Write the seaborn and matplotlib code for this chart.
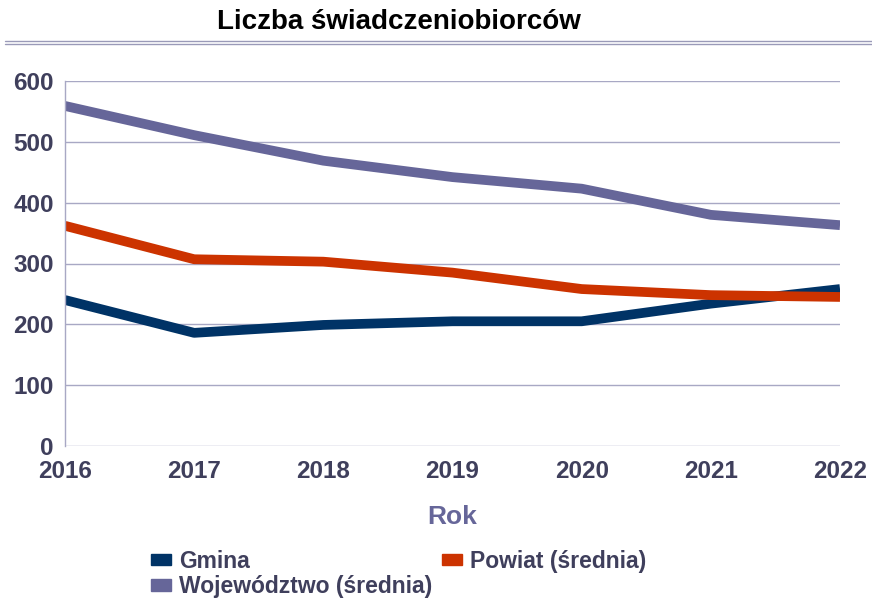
import pandas as pd
import matplotlib.pyplot as plt
import seaborn as sns
from matplotlib.patches import Patch
from matplotlib.lines import Line2D

# ---- data ----
years = [2016, 2017, 2018, 2019, 2020, 2021, 2022]
gmina = [240, 186, 199, 205, 205, 234, 258]
powiat = [362, 307, 303, 285, 258, 248, 245]
wojewodztwo = [559, 511, 469, 442, 423, 380, 363]
series_names = ["Gmina", "Powiat (średnia)", "Województwo (średnia)"]
colors = ["#003366", "#CC3300", "#666699"]

df = pd.DataFrame({
    "Rok": years * 3,
    "Wartość": gmina + powiat + wojewodztwo,
    "Seria": [series_names[0]] * 7 + [series_names[1]] * 7 + [series_names[2]] * 7,
})

sns.set_style("white")
plt.rcParams["font.family"] = ["Liberation Sans", "DejaVu Sans"]
plt.rcParams["font.weight"] = "bold"

text_col = "#3F3F5C"
grid_col = "#A8A8C4"

fig = plt.figure(figsize=(8.72, 6), dpi=100)
ax = fig.add_axes([65 / 872, 1 - 446 / 600, (840 - 65) / 872, (446 - 81) / 600])

sns.lineplot(data=df, x="Rok", y="Wartość", hue="Seria", palette=colors,
             linewidth=7, legend=False, ax=ax, solid_capstyle="butt")

ax.set_xlim(2016, 2022)
ax.set_ylim(0, 600)
ax.set_yticks(range(0, 601, 100))
ax.set_xticks(years)
ax.yaxis.grid(True, color=grid_col, linewidth=1)
ax.set_axisbelow(True)
for s in ["top", "right", "bottom"]:
    ax.spines[s].set_visible(False)
ax.spines["left"].set_color(grid_col)
ax.spines["left"].set_linewidth(1)
ax.tick_params(axis="both", length=0, labelsize=17.5, labelcolor=text_col)
ax.tick_params(axis="y", pad=8)
ax.tick_params(axis="x", pad=10)
for lab in ax.get_xticklabels() + ax.get_yticklabels():
    lab.set_fontweight("bold")
ax.set_ylabel("")
ax.set_xlabel("Rok", fontsize=19, fontweight="bold", color="#666699", labelpad=16)

# title and the double rule under it
fig.text(399 / 872, 1 - 22 / 600, "Liczba świadczeniobiorców", ha="center", va="center",
         fontsize=20, fontweight="bold", color="black")
for yy in [41, 44]:
    fig.add_artist(Line2D([5 / 872, 1], [1 - yy / 600, 1 - yy / 600],
                          transform=fig.transFigure, color="#9A9AB8", linewidth=1))

# legend: row-wise order Gmina, Powiat / Województwo
handles = [Patch(color=c) for c in colors]
order = [0, 2, 1]
fig.legend([handles[i] for i in order], [series_names[i] for i in order],
           loc="upper left", bbox_to_anchor=(130 / 872, 1 - 529 / 600), ncol=2,
           frameon=False, handlelength=0.9, handleheight=0.4,
           handletextpad=0.35, columnspacing=0.4, labelspacing=0.12,
           prop={"weight": "bold", "size": 16.5})
for t in fig.legends[0].get_texts():
    t.set_color(text_col)

plt.savefig("out.png", dpi=100)
